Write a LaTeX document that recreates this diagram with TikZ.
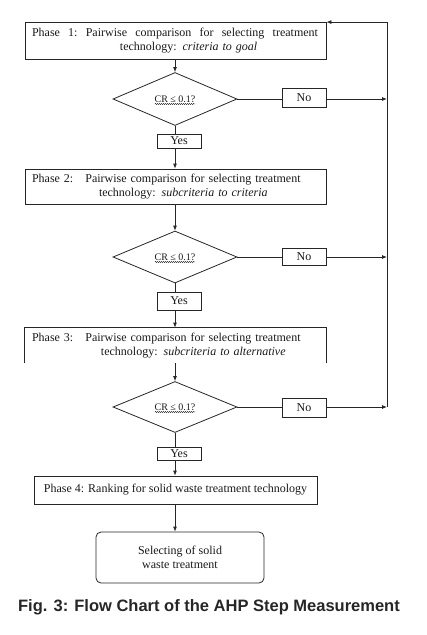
\documentclass[tikz,border=0pt]{standalone}
\usepackage{fontspec}
\setmainfont{Liberation Serif}
\newfontfamily\capfont{Liberation Sans}
\usetikzlibrary{arrows.meta,shapes.geometric,decorations.pathmorphing}
\begin{document}
\begin{tikzpicture}[x=1pt,y=-1pt,
  line width=0.8pt, draw=black!85,
  every node/.style={font=\fontsize{12}{14}\selectfont, text=black!90},
  phase/.style={draw, minimum width=301pt, text width=287pt, inner xsep=7pt, inner ysep=2pt, align=left},
  dec/.style={draw, diamond, minimum width=124pt, minimum height=53pt, inner sep=0pt, font=\fontsize{10}{12}\selectfont},
  small/.style={draw, minimum width=44pt, inner sep=0pt},
  arr/.style={-{Latex[length=5pt,width=4pt]}},
  wavy/.style={line width=0.4pt, decorate, decoration={snake, amplitude=0.6pt, segment length=2pt}}
]
\useasboundingbox (0,0) rectangle (427,635);

% Phase 1
\node[phase, minimum height=37pt] (p1) at (175.5,41)
  {\makebox[286pt][l]{Phase\hfill 1:\hfill Pairwise\hfill comparison\hfill for\hfill selecting\hfill treatment}\\
   \hspace*{88pt}technology: \textit{criteria to goal}};
\node[dec] (d1) at (175,99) {CR ≤ 0.1?};
\node[small, minimum height=19pt] (n1) at (304,97.5) {No};
\node[small, minimum height=14pt] (y1) at (179,141) {Yes};

% Phase 2
\node[phase, minimum height=35pt] (p2) at (175.5,186.5)
  {Phase 2:\quad Pairwise comparison for selecting treatment\\
   \hspace*{67pt}technology: \textit{subcriteria to criteria}};
\node[dec, minimum height=52pt] (d2) at (175,257) {CR ≤ 0.1?};
\node[small, minimum height=17pt] (n2) at (304,256.5) {No};
\node[small, minimum height=18pt] (y2) at (179,301) {Yes};

% Phase 3 (open at the bottom)
\node[phase, draw=none, minimum height=35pt] (p3) at (175.5,345.5)
  {Phase 3:\quad Pairwise comparison for selecting treatment\\
   \hspace*{69pt}technology: \textit{subcriteria to alternative}};
\draw (p3.south west) -- (p3.north west) -- (p3.north east) -- (p3.south east);
\node[dec, minimum height=51pt] (d3) at (175,407) {CR ≤ 0.1?};
\node[small, minimum height=19pt] (n3) at (304,407.5) {No};
\node[small, minimum height=13pt] (y3) at (179,453.5) {Yes};

% Phase 4 and end
\node[draw, minimum width=283pt, minimum height=28pt, inner sep=0pt] (p4) at (175.5,490)
  {Phase 4: Ranking for solid waste treatment technology};
\node[draw, rounded corners=5pt, minimum width=168pt, minimum height=51pt, align=center] (e) at (180,557.5)
  {Selecting of solid\\ waste treatment};

\node[font=\capfont\bfseries\fontsize{16.5}{19}\selectfont, text=black!85] (cap) at (209,607)
  {Fig. 3: Flow Chart of the AHP Step Measurement};

% wavy underlines
\foreach \d in {d1,d2,d3}{
  \draw[wavy] ([xshift=-20pt,yshift=-5pt]\d.center) -- ([xshift=20pt,yshift=-5pt]\d.center);
}

% right-hand return line
\coordinate (br) at (387,407);

% connectors
\draw[arr] (p1.south -| d1.north) -- (d1.north);
\draw (d1.east) -- (n1.west |- d1.east);
\draw[arr] (n1.east |- d1.east) -- (br |- d1.east);
\draw (d1.south) -- (d1.south |- y1.north);
\draw[arr] (d1.south |- y1.south) -- (d1.south |- p2.north);

\draw[arr] (p2.south -| d2.north) -- (d2.north);
\draw (d2.east) -- (n2.west |- d2.east);
\draw[arr] (n2.east |- d2.east) -- (br |- d2.east);
\draw (d2.south) -- (d2.south |- y2.north);
\draw[arr] (d2.south |- y2.south) -- (d2.south |- p3.north);

\draw[arr] (p3.south -| d3.north) -- (d3.north);
\draw (d3.east) -- (n3.west |- d3.east);
\draw[arr] (n3.east |- d3.east) -- (br);
\draw (d3.south) -- (d3.south |- y3.north);
\draw[arr] (d3.south |- y3.south) -- (d3.south |- p4.north);

\draw[arr] (p4.south -| d3.south) -- (d3.south |- e.north);
\draw[arr] (br) |- (p1.north east);
\end{tikzpicture}
\end{document}
